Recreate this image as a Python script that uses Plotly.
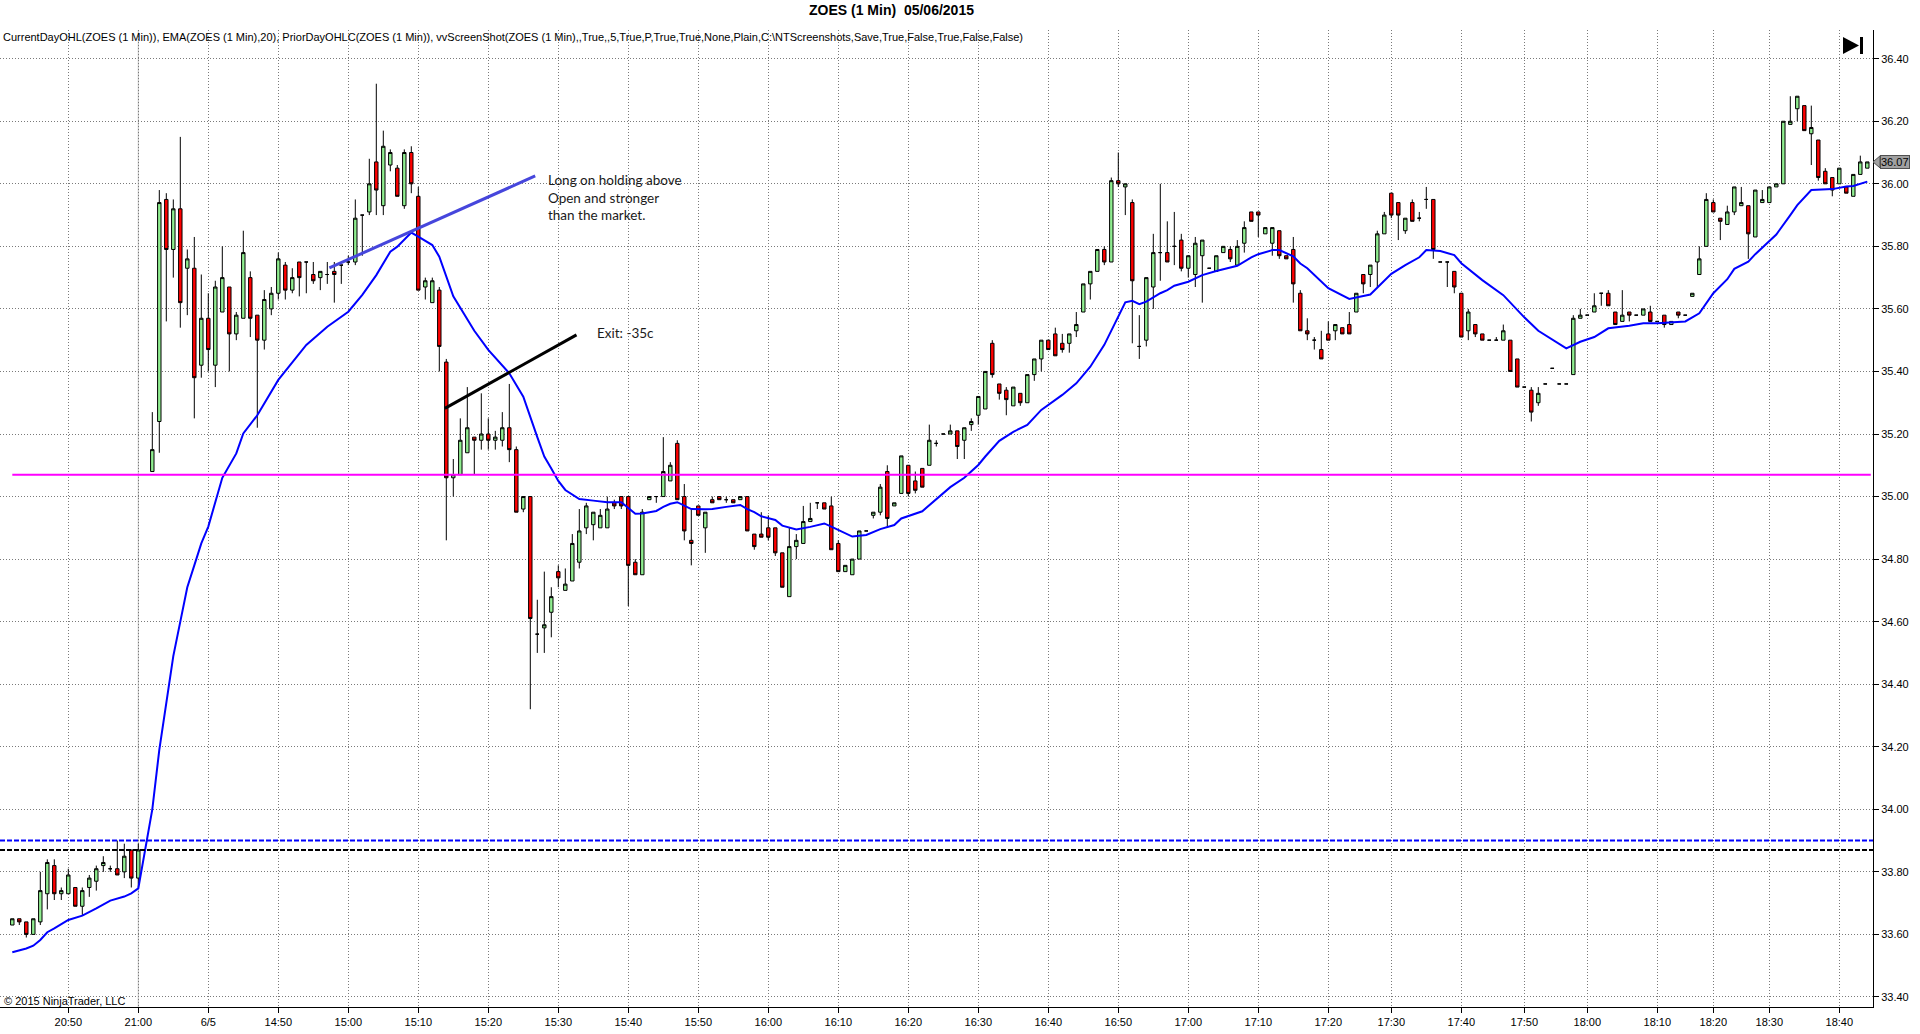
import plotly.graph_objects as go

# ---------------- data ----------------
# bar slot index (one slot per 1-minute bar; slot 19 is the empty session gap)
bar_slot = [i for i in range(266) if i != 19]

opens = [
    33.63, 33.65, 33.64, 33.60, 33.64, 33.73, 33.82, 33.73, 33.73, 33.75,
    33.69, 33.75, 33.77, 33.82, 33.81, 33.81, 33.80, 33.87, 33.78,
    35.08, 35.24, 35.95, 35.79, 35.92, 35.73, 35.73, 35.42, 35.57, 35.42,
    35.59, 35.67, 35.52, 35.57, 35.70, 35.58, 35.50, 35.60, 35.65, 35.74,
    35.66, 35.75, 35.75, 35.71, 35.70, 35.71, 35.72, 35.74, 35.75, 35.75,
    35.90, 35.91, 36.07, 35.93, 36.06, 36.05, 35.93, 36.10, 35.96, 35.67,
    35.62, 35.66, 35.43, 35.06, 35.07, 35.14, 35.19, 35.18, 35.20, 35.18,
    35.18, 35.22, 35.15, 34.96, 35.00, 34.56, 34.58, 34.63, 34.76, 34.70,
    34.73, 34.79, 34.90, 34.91, 34.90, 34.90, 34.98, 35.00, 35.00, 34.79,
    34.75, 34.99, 35.00, 35.00, 35.05, 35.17, 35.00, 34.86, 34.97, 34.90,
    34.99, 35.00, 34.99, 34.99, 34.99, 35.00, 34.88, 34.88, 34.90, 34.90,
    34.82, 34.68, 34.84, 34.85, 34.92, 34.98, 34.98, 34.97, 34.85, 34.76,
    34.75, 34.80, 34.89, 34.94, 34.95, 35.08, 34.97, 35.01, 35.10, 35.05,
    35.09, 35.10, 35.17, 35.20, 35.20, 35.21, 35.18, 35.23, 35.26, 35.28,
    35.49, 35.36, 35.34, 35.29, 35.33, 35.30, 35.39, 35.44, 35.50, 35.52,
    35.49, 35.49, 35.53, 35.59, 35.68, 35.72, 35.79, 35.75, 36.01, 35.99,
    35.94, 35.48, 35.50, 35.67, 35.78, 35.78, 35.80, 35.82, 35.73, 35.71,
    35.77, 35.73, 35.72, 35.78, 35.79, 35.74, 35.81, 35.91, 35.91, 35.84,
    35.81, 35.85, 35.77, 35.79, 35.65, 35.53, 35.50, 35.47, 35.52, 35.53,
    35.54, 35.55, 35.59, 35.71, 35.71, 35.75, 35.84, 35.97, 35.94, 35.85,
    35.94, 35.89, 35.95, 35.95, 35.75, 35.75, 35.72, 35.65, 35.53, 35.55,
    35.52, 35.50, 35.50, 35.50, 35.50, 35.44, 35.35, 35.34, 35.30, 35.36,
    35.41, 35.36, 35.36, 35.39, 35.57, 35.58, 35.59, 35.65, 35.65, 35.59,
    35.56, 35.59, 35.58, 35.58, 35.59, 35.56, 35.58, 35.55, 35.59, 35.58,
    35.64, 35.71, 35.80, 35.94, 35.89, 35.87, 35.91, 35.93, 35.93, 35.83,
    35.94, 35.94, 35.99, 36.00, 36.19, 36.24, 36.25, 36.16, 36.14, 36.04,
    36.02, 36.00, 35.99, 35.96, 36.03, 36.05,
]

highs = [
    33.65, 33.65, 33.64, 33.65, 33.80, 33.84, 33.84, 33.75, 33.81, 33.75,
    33.75, 33.79, 33.82, 33.85, 33.82, 33.90, 33.89, 33.87, 33.89,
    35.27, 35.98, 35.97, 35.95, 36.15, 35.79, 35.83, 35.71, 35.65, 35.69,
    35.80, 35.67, 35.59, 35.85, 35.72, 35.58, 35.66, 35.67, 35.78, 35.75,
    35.73, 35.75, 35.75, 35.75, 35.72, 35.75, 35.75, 35.74, 35.77, 35.95,
    35.90, 36.08, 36.32, 36.17, 36.11, 36.06, 36.11, 36.12, 35.99, 35.70,
    35.70, 35.67, 35.44, 35.12, 35.25, 35.35, 35.19, 35.33, 35.25, 35.21,
    35.27, 35.36, 35.16, 35.00, 35.00, 34.67, 34.76, 34.71, 34.78, 34.77,
    34.88, 34.96, 34.98, 34.95, 34.96, 35.00, 34.99, 35.00, 35.00, 34.80,
    34.96, 35.00, 35.00, 35.19, 35.11, 35.18, 35.04, 34.96, 34.97, 34.95,
    35.00, 35.00, 35.00, 34.99, 35.00, 35.00, 34.88, 34.95, 34.94, 34.90,
    34.82, 34.90, 34.88, 34.97, 34.98, 34.98, 34.98, 35.00, 34.86, 34.78,
    34.80, 34.89, 34.89, 34.95, 35.04, 35.10, 34.98, 35.13, 35.10, 35.08,
    35.09, 35.23, 35.18, 35.20, 35.23, 35.21, 35.22, 35.25, 35.32, 35.40,
    35.50, 35.36, 35.35, 35.35, 35.33, 35.39, 35.44, 35.50, 35.50, 35.54,
    35.52, 35.52, 35.59, 35.68, 35.72, 35.79, 35.80, 36.02, 36.10, 36.00,
    35.95, 35.58, 35.70, 35.84, 36.00, 35.88, 35.91, 35.84, 35.77, 35.83,
    35.82, 35.73, 35.77, 35.80, 35.80, 35.82, 35.88, 35.91, 35.91, 35.86,
    35.86, 35.85, 35.77, 35.83, 35.66, 35.57, 35.51, 35.53, 35.56, 35.55,
    35.54, 35.59, 35.65, 35.71, 35.74, 35.85, 35.91, 35.97, 35.94, 35.89,
    35.95, 35.91, 35.99, 35.95, 35.75, 35.75, 35.72, 35.65, 35.60, 35.55,
    35.52, 35.50, 35.51, 35.55, 35.50, 35.44, 35.35, 35.35, 35.35, 35.36,
    35.41, 35.36, 35.36, 35.58, 35.60, 35.58, 35.65, 35.65, 35.66, 35.59,
    35.66, 35.59, 35.58, 35.60, 35.61, 35.56, 35.58, 35.56, 35.59, 35.58,
    35.65, 35.80, 35.97, 35.95, 35.89, 35.93, 35.99, 35.99, 35.93, 35.98,
    35.98, 35.99, 36.00, 36.20, 36.28, 36.28, 36.25, 36.25, 36.14, 36.05,
    36.02, 36.05, 35.99, 36.03, 36.09, 36.07,
]

lows = [
    33.63, 33.63, 33.59, 33.60, 33.63, 33.68, 33.71, 33.71, 33.73, 33.69,
    33.66, 33.72, 33.74, 33.80, 33.80, 33.79, 33.78, 33.75, 33.75,
    35.08, 35.14, 35.56, 35.70, 35.54, 35.58, 35.25, 35.38, 35.40, 35.35,
    35.59, 35.40, 35.50, 35.57, 35.51, 35.22, 35.47, 35.58, 35.63, 35.63,
    35.65, 35.64, 35.65, 35.68, 35.66, 35.68, 35.62, 35.68, 35.74, 35.74,
    35.77, 35.90, 35.90, 35.90, 36.04, 35.96, 35.92, 35.97, 35.66, 35.63,
    35.62, 35.40, 34.86, 35.00, 35.07, 35.14, 35.07, 35.15, 35.15, 35.15,
    35.16, 35.11, 34.95, 34.95, 34.32, 34.50, 34.50, 34.55, 34.71, 34.70,
    34.73, 34.77, 34.88, 34.86, 34.90, 34.90, 34.96, 34.96, 34.65, 34.75,
    34.75, 34.99, 34.98, 35.00, 35.05, 34.99, 34.86, 34.78, 34.94, 34.82,
    34.98, 34.99, 34.98, 34.98, 34.99, 34.89, 34.83, 34.87, 34.86, 34.81,
    34.71, 34.68, 34.80, 34.85, 34.92, 34.96, 34.96, 34.83, 34.76, 34.76,
    34.75, 34.80, 34.89, 34.93, 34.94, 34.90, 34.97, 35.01, 35.00, 35.01,
    35.03, 35.10, 35.16, 35.20, 35.20, 35.12, 35.12, 35.21, 35.23, 35.28,
    35.38, 35.31, 35.26, 35.29, 35.29, 35.30, 35.37, 35.40, 35.47, 35.45,
    35.46, 35.46, 35.51, 35.59, 35.63, 35.72, 35.74, 35.75, 35.99, 35.90,
    35.49, 35.44, 35.48, 35.60, 35.69, 35.75, 35.74, 35.72, 35.70, 35.67,
    35.62, 35.73, 35.72, 35.78, 35.75, 35.74, 35.78, 35.88, 35.83, 35.84,
    35.77, 35.76, 35.76, 35.62, 35.53, 35.50, 35.47, 35.44, 35.50, 35.50,
    35.52, 35.52, 35.59, 35.65, 35.67, 35.67, 35.84, 35.89, 35.82, 35.84,
    35.88, 35.88, 35.92, 35.76, 35.75, 35.67, 35.65, 35.51, 35.50, 35.51,
    35.50, 35.50, 35.50, 35.50, 35.40, 35.35, 35.35, 35.24, 35.29, 35.36,
    35.41, 35.36, 35.36, 35.39, 35.57, 35.58, 35.59, 35.61, 35.61, 35.55,
    35.56, 35.56, 35.58, 35.58, 35.56, 35.56, 35.54, 35.55, 35.57, 35.58,
    35.64, 35.71, 35.80, 35.91, 35.82, 35.87, 35.90, 35.93, 35.76, 35.83,
    35.94, 35.94, 35.99, 36.00, 36.19, 36.20, 36.17, 36.06, 36.01, 36.00,
    35.96, 36.00, 35.97, 35.96, 36.03, 36.05,
]

closes = [
    33.65, 33.64, 33.60, 33.65, 33.74, 33.83, 33.73, 33.74, 33.79, 33.69,
    33.74, 33.78, 33.81, 33.83, 33.81, 33.79, 33.85, 33.78, 33.87,
    35.15, 35.94, 35.79, 35.92, 35.62, 35.76, 35.38, 35.57, 35.47, 35.67,
    35.70, 35.52, 35.58, 35.78, 35.57, 35.50, 35.63, 35.65, 35.76, 35.66,
    35.70, 35.70, 35.75, 35.69, 35.72, 35.71, 35.71, 35.74, 35.75, 35.89,
    35.90, 36.00, 35.98, 36.12, 36.10, 35.96, 36.10, 36.00, 35.66, 35.69,
    35.69, 35.48, 35.06, 35.07, 35.18, 35.22, 35.18, 35.20, 35.18, 35.19,
    35.22, 35.15, 34.95, 35.00, 34.61, 34.56, 34.59, 34.68, 34.74, 34.72,
    34.85, 34.89, 34.97, 34.95, 34.94, 34.96, 34.97, 34.97, 34.78, 34.75,
    34.95, 35.00, 35.00, 35.08, 35.10, 34.99, 34.89, 34.85, 34.94, 34.95,
    34.98, 34.99, 34.99, 34.98, 35.00, 34.89, 34.84, 34.87, 34.87, 34.82,
    34.71, 34.84, 34.86, 34.92, 34.93, 34.98, 34.96, 34.83, 34.76, 34.78,
    34.80, 34.89, 34.89, 34.95, 35.03, 34.93, 34.98, 35.13, 35.01, 35.02,
    35.03, 35.18, 35.17, 35.20, 35.21, 35.16, 35.22, 35.24, 35.32, 35.40,
    35.39, 35.33, 35.31, 35.35, 35.30, 35.39, 35.44, 35.50, 35.47, 35.45,
    35.47, 35.52, 35.55, 35.68, 35.72, 35.79, 35.75, 36.01, 36.00, 36.00,
    35.69, 35.48, 35.70, 35.78, 35.78, 35.75, 35.80, 35.73, 35.77, 35.81,
    35.82, 35.73, 35.77, 35.80, 35.76, 35.80, 35.86, 35.88, 35.90, 35.86,
    35.86, 35.77, 35.76, 35.68, 35.53, 35.52, 35.50, 35.44, 35.50, 35.55,
    35.52, 35.52, 35.65, 35.68, 35.74, 35.84, 35.90, 35.90, 35.90, 35.89,
    35.88, 35.89, 35.95, 35.79, 35.75, 35.75, 35.67, 35.51, 35.59, 35.52,
    35.50, 35.50, 35.50, 35.53, 35.40, 35.35, 35.35, 35.27, 35.33, 35.36,
    35.41, 35.36, 35.36, 35.57, 35.58, 35.58, 35.61, 35.65, 35.61, 35.55,
    35.58, 35.58, 35.58, 35.60, 35.56, 35.56, 35.55, 35.56, 35.58, 35.58,
    35.65, 35.76, 35.95, 35.91, 35.88, 35.91, 35.99, 35.94, 35.84, 35.98,
    35.95, 35.99, 36.00, 36.20, 36.20, 36.28, 36.17, 36.18, 36.02, 36.00,
    35.98, 36.05, 35.97, 36.03, 36.07, 36.07,
]

# EMA(20) line, read at these bar slots
ema_x = [
    0, 2, 3, 4, 5, 6, 8, 10, 12, 14,
    16, 17, 18, 19, 20, 21, 22, 23, 24, 25,
    26, 27, 28, 30, 32, 33, 35, 38, 42, 45,
    48, 50, 52, 54, 55, 57, 58, 60, 61, 62,
    63, 66, 68, 71, 73, 75, 76, 77, 78, 79,
    81, 83, 85, 87, 88, 89, 90, 92, 93, 94,
    95, 96, 97, 99, 100, 102, 104, 105, 106, 107,
    109, 110, 112, 114, 116, 117, 120, 122, 124, 126,
    127, 130, 132, 134, 136, 138, 139, 141, 143, 145,
    147, 150, 152, 154, 156, 157, 158, 159, 160, 161,
    162, 164, 165, 166, 168, 170, 172, 175, 177, 178,
    180, 181, 183, 184, 185, 188, 191, 194, 197, 199,
    201, 202, 204, 206, 207, 210, 213, 216, 218, 220,
    222, 224, 226, 228, 231, 233, 235, 239, 241, 243,
    245, 246, 248, 249, 252, 254, 255, 257, 259, 260,
    262, 263, 265,
]
ema_val = [
    33.543, 33.555, 33.564, 33.582, 33.607, 33.619, 33.646, 33.660, 33.683, 33.708,
    33.721, 33.731, 33.747, 33.88, 34.00, 34.19, 34.34, 34.49, 34.60, 34.71,
    34.78, 34.85, 34.904, 35.06, 35.138, 35.202, 35.26, 35.373, 35.485, 35.543,
    35.591, 35.645, 35.708, 35.783, 35.799, 35.844, 35.831, 35.804, 35.767, 35.70,
    35.64, 35.53, 35.469, 35.394, 35.319, 35.19, 35.128, 35.09, 35.05, 35.021,
    34.992, 34.987, 34.982, 34.982, 34.962, 34.945, 34.946, 34.954, 34.967, 34.977,
    34.982, 34.972, 34.960, 34.959, 34.960, 34.967, 34.973, 34.96, 34.95, 34.937,
    34.925, 34.907, 34.895, 34.903, 34.914, 34.904, 34.872, 34.877, 34.896, 34.909,
    34.930, 34.953, 34.99, 35.03, 35.06, 35.101, 35.128, 35.178, 35.207, 35.229,
    35.277, 35.325, 35.362, 35.415, 35.485, 35.532, 35.575, 35.621, 35.626, 35.615,
    35.623, 35.650, 35.660, 35.674, 35.687, 35.708, 35.721, 35.738, 35.765, 35.775,
    35.788, 35.788, 35.768, 35.745, 35.730, 35.666, 35.632, 35.646, 35.712, 35.740,
    35.765, 35.788, 35.785, 35.772, 35.746, 35.692, 35.644, 35.573, 35.530, 35.501,
    35.474, 35.495, 35.510, 35.538, 35.546, 35.554, 35.554, 35.560, 35.586, 35.650,
    35.695, 35.728, 35.751, 35.775, 35.838, 35.90, 35.932, 35.980, 35.983, 35.983,
    35.991, 35.993, 36.007,
]

# x-axis time labels at bar slots
tick_slots = [8, 18, 28, 38, 48, 58, 68, 78, 88, 98, 108, 118, 128, 138, 148,
              158, 168, 178, 188, 197, 207, 216, 225, 235, 243, 251, 261]
tick_labels = ["20:50", "21:00", "6/5", "14:50", "15:00", "15:10", "15:20", "15:30",
               "15:40", "15:50", "16:00", "16:10", "16:20", "16:30", "16:40", "16:50",
               "17:00", "17:10", "17:20", "17:30", "17:40", "17:50", "18:00", "18:10",
               "18:20", "18:30", "18:40"]
session_break_slot = 18

price_ticks = [33.40, 33.60, 33.80, 34.00, 34.20, 34.40, 34.60, 34.80, 35.00,
               35.20, 35.40, 35.60, 35.80, 36.00, 36.20, 36.40]

current_day_open = 35.07
prior_day_high = 33.90
prior_day_close = 33.87

# hand-drawn lines on the chart: (slot, price) end points
entry_line = [(45.3, 35.731), (74.7, 36.025)]
exit_line = [(61.8, 35.282), (80.6, 35.517)]

# ---------------- figure ----------------
W, H = 1920, 1034
ML, MR, MT, MB = 0, 47, 30, 27
PW, PH = W - ML - MR, H - MT - MB

fig = go.Figure()

fig.add_trace(go.Candlestick(
    x=bar_slot, open=opens, high=highs, low=lows, close=closes,
    increasing=dict(fillcolor="#90EE90", line=dict(color="black", width=1)),
    decreasing=dict(fillcolor="#FF0000", line=dict(color="black", width=1)),
    whiskerwidth=0, showlegend=False, hoverinfo="skip",
))

fig.add_trace(go.Scatter(
    x=ema_x, y=ema_val, mode="lines",
    line=dict(color="#0000FF", width=2), showlegend=False, hoverinfo="skip",
))

fig.add_trace(go.Scatter(
    x=[p[0] for p in entry_line], y=[p[1] for p in entry_line], mode="lines",
    line=dict(color="#4646DC", width=3), showlegend=False, hoverinfo="skip",
))
fig.add_trace(go.Scatter(
    x=[p[0] for p in exit_line], y=[p[1] for p in exit_line], mode="lines",
    line=dict(color="black", width=3), showlegend=False, hoverinfo="skip",
))

shapes = []
# session break (solid light gray)
shapes.append(dict(type="line", xref="x", yref="paper", x0=session_break_slot,
                   x1=session_break_slot, y0=0, y1=1,
                   line=dict(color="#C0C0C0", width=1), layer="below"))
# current day open (magenta) from first bar to right edge
shapes.append(dict(type="line", xref="x", yref="y", x0=bar_slot[0], x1=bar_slot[-1] + 0.5,
                   y0=current_day_open, y1=current_day_open,
                   line=dict(color="#FF00FF", width=2), layer="above"))
shapes.append(dict(type="line", xref="paper", yref="y", x0=0, x1=1,
                   y0=prior_day_high, y1=prior_day_high,
                   line=dict(color="#0000FF", width=2, dash="5px,2px"), layer="above"))
shapes.append(dict(type="line", xref="paper", yref="y", x0=0, x1=1,
                   y0=prior_day_close, y1=prior_day_close,
                   line=dict(color="black", width=2, dash="5px,2px"), layer="above"))


def px_x(x):
    return x / PW


def px_y(y):
    return 1 - (y - MT) / PH


# "go to end" icon in the top-right corner
shapes.append(dict(type="path", xref="paper", yref="paper",
                   path="M {a},{b} L {a},{c} L {d},{e} Z".format(
                       a=px_x(1843), b=px_y(37), c=px_y(54), d=px_x(1859), e=px_y(45.5)),
                   fillcolor="black", line=dict(color="black", width=0), layer="above"))
shapes.append(dict(type="rect", xref="paper", yref="paper",
                   x0=px_x(1860), x1=px_x(1863), y0=px_y(54), y1=px_y(37),
                   fillcolor="black", line=dict(color="black", width=0), layer="above"))
# pointer of the last-price tag
shapes.append(dict(type="path", xref="paper", yref="y", xsizemode="pixel", xanchor=1,
                   ysizemode="pixel", yanchor=closes[-1],
                   path="M 0,0 L 7,6 L 7,-6 Z", fillcolor="#A0A0A0",
                   line=dict(color="#505050", width=1), layer="above"))

annotations = []
annotations.append(dict(text="<b>ZOES (1 Min)  05/06/2015</b>", xref="paper", yref="paper",
                        x=px_x(891), y=px_y(10), xanchor="center", yanchor="middle",
                        showarrow=False,
                        font=dict(family="Liberation Sans, Arial", size=14, color="black")))
annotations.append(dict(
    text="CurrentDayOHL(ZOES (1 Min)), EMA(ZOES (1 Min),20), PriorDayOHLC(ZOES (1 Min)), "
         "vvScreenShot(ZOES (1 Min),,True,,5,True,P,True,True,None,Plain,C:\\NTScreenshots,"
         "Save,True,False,True,False,False)",
    xref="paper", yref="paper", x=px_x(1), y=px_y(36.7), xanchor="left", yanchor="middle",
    showarrow=False, font=dict(family="Liberation Sans, Arial", size=11, color="black")))
annotations.append(dict(text="© 2015 NinjaTrader, LLC", xref="paper", yref="paper",
                        x=px_x(2), y=px_y(1001), xanchor="left", yanchor="middle",
                        showarrow=False,
                        font=dict(family="Liberation Sans, Arial", size=11, color="black")))
annotations.append(dict(text="Long on holding above<br>Open and stronger<br>than the market.",
                        xref="x", yref="y", x=76.3, y=35.956, xanchor="left", yanchor="middle",
                        align="left", showarrow=False,
                        font=dict(family="Lato", size=13.5, color="#1a1a1a")))
annotations.append(dict(text="Exit: -35c", xref="x", yref="y", x=83.3, y=35.522,
                        xanchor="left", yanchor="middle", showarrow=False,
                        font=dict(family="Lato", size=13.5, color="#1a1a1a")))
annotations.append(dict(text="{:.2f}".format(closes[-1]), xref="paper", yref="y", x=1,
                        y=closes[-1], xanchor="left", yanchor="middle", xshift=7,
                        showarrow=False, bgcolor="#A0A0A0", bordercolor="#505050",
                        borderwidth=1, borderpad=0,
                        font=dict(family="Liberation Sans, Arial", size=11, color="black")))

x_lo = -12.3 / 7
x_hi = (PW - 12.3) / 7
y_top = 36.40 + (58.7 - MT) / 312.75
y_bot = 36.40 - (H - MB - 58.7) / 312.75

grid_style = dict(showgrid=True, gridcolor="#7A7A7A", griddash="1px,2px", gridwidth=1)

fig.update_layout(
    width=W, height=H, autosize=False,
    margin=dict(l=ML, r=MR, t=MT, b=MB, pad=0),
    paper_bgcolor="white", plot_bgcolor="white",
    showlegend=False, shapes=shapes, annotations=annotations,
    font=dict(family="Liberation Sans, Arial", size=11, color="black"),
    xaxis=dict(range=[x_lo, x_hi], rangeslider=dict(visible=False), type="linear",
               tickmode="array", tickvals=tick_slots, ticktext=tick_labels,
               zeroline=False, showline=True, linecolor="black", linewidth=1,
               ticks="outside", ticklen=5, tickcolor="black",
               tickfont=dict(family="Liberation Sans, Arial", size=11, color="black"),
               **grid_style),
    yaxis=dict(range=[y_bot, y_top], side="right", tickmode="array",
               tickvals=price_ticks, ticktext=["{:.2f}".format(v) for v in price_ticks],
               zeroline=False, showline=True, linecolor="black", linewidth=1,
               ticks="outside", ticklen=5, tickcolor="black",
               tickfont=dict(family="Liberation Sans, Arial", size=11, color="black"),
               **grid_style),
    boxgap=0.3,
)

fig.write_html("out.html", config={"displayModeBar": False},
               post_script="document.body.style.margin='0';document.body.style.overflow='hidden';")
